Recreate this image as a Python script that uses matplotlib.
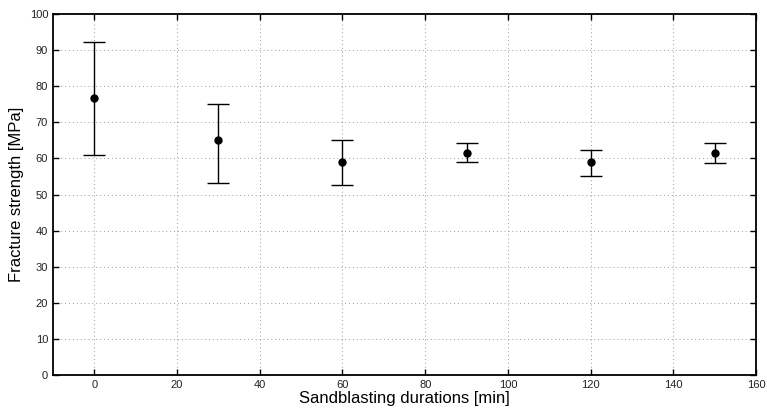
import matplotlib
matplotlib.use('Agg')
import matplotlib.pyplot as plt

plt.rcParams['font.family'] = ['Liberation Sans', 'DejaVu Sans']

# sandblasting duration [min]
durations = [0, 30, 60, 90, 120, 150]
# mean fracture strength [MPa]
strength = [76.6, 65.1, 59.1, 61.6, 59.0, 61.6]
# lower / upper end of error bars [MPa]
low = [61.0, 53.2, 52.7, 59.0, 55.1, 58.8]
high = [92.2, 75.0, 65.1, 64.4, 62.4, 64.4]

err_lo = [s - l for s, l in zip(strength, low)]
err_hi = [h - s for s, h in zip(strength, high)]

fig = plt.figure(figsize=(7.67, 4.12), dpi=100)
ax = fig.add_axes([0.0691, 0.0898, 0.9166, 0.8762])

ax.errorbar(durations, strength, yerr=[err_lo, err_hi], fmt='o', color='k',
            ms=5, capsize=8, elinewidth=1.0, capthick=1.0)

ax.set_xlim(-10, 160)
ax.set_ylim(0, 100)
ax.set_xticks(range(0, 161, 20))
ax.set_yticks(range(0, 101, 10))
ax.grid(True, color='#999999', lw=0.7, dashes=(1, 3))
ax.tick_params(direction='in', top=True, right=True, labelsize=8, length=4, width=1,
               labelcolor='#222222')
for sp in ax.spines.values():
    sp.set_linewidth(1.3)

ax.set_xlabel('Sandblasting durations [min]', fontsize=12, labelpad=1)
ax.set_ylabel('Fracture strength [MPa]', fontsize=12, labelpad=4)

fig.savefig('out.png', dpi=100)
